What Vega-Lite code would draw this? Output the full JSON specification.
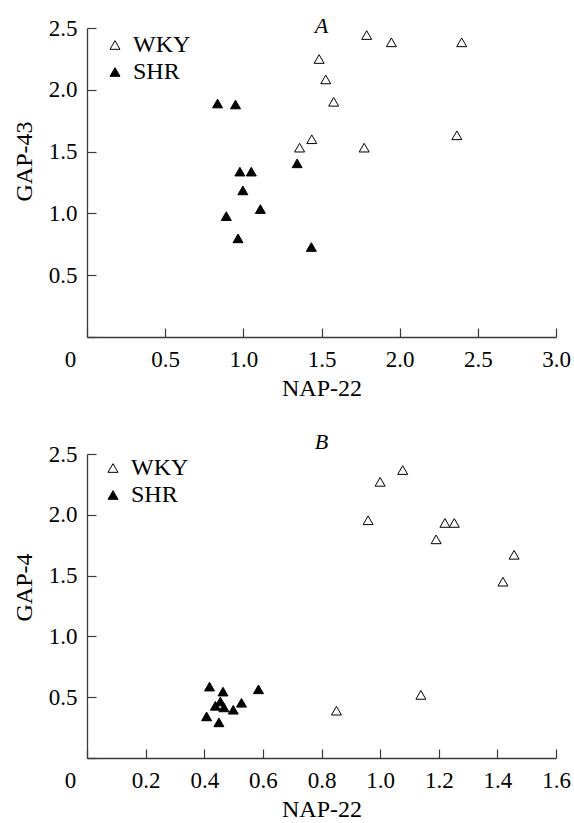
{
  "$schema": "https://vega.github.io/schema/vega-lite/v6.json",
  "autosize": {"type": "pad"},
  "padding": {"left": 12, "top": 15, "right": 0, "bottom": 0},
  "background": "white",
  "bounds": "flush",
  "spacing": 117,
  "config": {
    "view": {"stroke": null},
    "font": "Liberation Serif",
    "axis": {
      "grid": false,
      "domainColor": "#3a3a3a",
      "domainWidth": 1.3,
      "tickColor": "#3a3a3a",
      "tickWidth": 1.2,
      "tickSize": -9,
      "labelFont": "Liberation Serif",
      "labelFontSize": 23,
      "labelColor": "black",
      "labelFlush": false,
      "labelOverlap": false,
      "labelBound": false,
      "titleFont": "Liberation Serif",
      "titleFontSize": 24,
      "titleFontWeight": "normal",
      "titleColor": "black"
    },
    "axisX": {"labelPadding": 20, "titlePadding": 5},
    "axisY": {"labelPadding": 19, "titlePadding": 12},
    "legend": {
      "orient": "none",
      "title": null,
      "padding": 0,
      "symbolType": "triangle-up",
      "symbolSize": 100,
      "symbolStrokeColor": "black",
      "symbolStrokeWidth": 1,
      "labelFont": "Liberation Serif",
      "labelFontSize": 24,
      "labelColor": "black",
      "labelOffset": 6,
      "rowPadding": 3
    },
    "title": {
      "font": "Liberation Serif",
      "fontSize": 22,
      "fontStyle": "italic",
      "fontWeight": "normal",
      "color": "black",
      "anchor": "middle",
      "frame": "group",
      "baseline": "alphabetic"
    }
  },
  "datasets": {
    "a": [
      {"nap22": 1.789, "gap": 2.443, "group": "WKY"},
      {"nap22": 1.947, "gap": 2.384, "group": "WKY"},
      {"nap22": 2.397, "gap": 2.384, "group": "WKY"},
      {"nap22": 1.485, "gap": 2.249, "group": "WKY"},
      {"nap22": 1.527, "gap": 2.084, "group": "WKY"},
      {"nap22": 1.578, "gap": 1.903, "group": "WKY"},
      {"nap22": 1.438, "gap": 1.6, "group": "WKY"},
      {"nap22": 1.36, "gap": 1.532, "group": "WKY"},
      {"nap22": 1.773, "gap": 1.532, "group": "WKY"},
      {"nap22": 2.366, "gap": 1.632, "group": "WKY"},
      {"nap22": 0.835, "gap": 1.889, "group": "SHR"},
      {"nap22": 0.95, "gap": 1.881, "group": "SHR"},
      {"nap22": 0.978, "gap": 1.338, "group": "SHR"},
      {"nap22": 1.051, "gap": 1.338, "group": "SHR"},
      {"nap22": 0.997, "gap": 1.186, "group": "SHR"},
      {"nap22": 1.344, "gap": 1.405, "group": "SHR"},
      {"nap22": 0.891, "gap": 0.978, "group": "SHR"},
      {"nap22": 1.109, "gap": 1.035, "group": "SHR"},
      {"nap22": 0.966, "gap": 0.798, "group": "SHR"},
      {"nap22": 1.435, "gap": 0.728, "group": "SHR"}
    ],
    "b": [
      {"nap22": 0.959, "gap": 1.955, "group": "WKY"},
      {"nap22": 1.0, "gap": 2.271, "group": "WKY"},
      {"nap22": 1.077, "gap": 2.368, "group": "WKY"},
      {"nap22": 1.191, "gap": 1.798, "group": "WKY"},
      {"nap22": 1.221, "gap": 1.933, "group": "WKY"},
      {"nap22": 1.253, "gap": 1.933, "group": "WKY"},
      {"nap22": 1.457, "gap": 1.671, "group": "WKY"},
      {"nap22": 1.419, "gap": 1.45, "group": "WKY"},
      {"nap22": 0.851, "gap": 0.389, "group": "WKY"},
      {"nap22": 1.139, "gap": 0.519, "group": "WKY"},
      {"nap22": 0.418, "gap": 0.587, "group": "SHR"},
      {"nap22": 0.464, "gap": 0.546, "group": "SHR"},
      {"nap22": 0.585, "gap": 0.565, "group": "SHR"},
      {"nap22": 0.438, "gap": 0.429, "group": "SHR"},
      {"nap22": 0.455, "gap": 0.465, "group": "SHR"},
      {"nap22": 0.467, "gap": 0.416, "group": "SHR"},
      {"nap22": 0.499, "gap": 0.397, "group": "SHR"},
      {"nap22": 0.527, "gap": 0.454, "group": "SHR"},
      {"nap22": 0.408, "gap": 0.342, "group": "SHR"},
      {"nap22": 0.45, "gap": 0.293, "group": "SHR"}
    ]
  },
  "resolve": {
    "scale": {"x": "independent", "y": "independent", "fill": "independent"},
    "legend": {"fill": "independent"},
    "axis": {"x": "independent", "y": "independent"}
  },
  "vconcat": [
    {
      "title": {"text": "A", "offset": -21},
      "width": 469,
      "height": 309,
      "data": {"name": "a"},
      "mark": {"type": "point", "shape": "triangle-up", "size": 100, "filled": true, "stroke": "black", "strokeWidth": 1, "opacity": 1},
      "encoding": {
        "x": {
          "field": "nap22", "type": "quantitative",
          "scale": {"domain": [0, 3], "nice": false, "zero": false},
          "axis": {
            "title": "NAP-22",
            "values": [0, 0.5, 1, 1.5, 2, 2.5, 3],
            "labelExpr": "datum.value === 0 ? '0' : format(datum.value, '.1f')",
            "labelOffset": {"condition": {"test": "datum.value === 0", "value": -17}, "value": 0}
          }
        },
        "y": {
          "field": "gap", "type": "quantitative",
          "scale": {"domain": [0, 2.5], "nice": false},
          "axis": {
            "title": "GAP-43",
            "values": [0, 0.5, 1, 1.5, 2, 2.5],
            "labelExpr": "datum.value === 0 ? '' : format(datum.value, '.1f')",
            "titleY": 133
          }
        },
        "fill": {
          "field": "group", "type": "nominal",
          "scale": {"domain": ["WKY", "SHR"], "range": ["white", "black"]},
          "legend": {"orient": "none", "legendX": 16, "legendY": 5, "title": null}
        }
      }
    },
    {
      "title": {"text": "B", "offset": -11},
      "width": 469,
      "height": 304,
      "data": {"name": "b"},
      "mark": {"type": "point", "shape": "triangle-up", "size": 100, "filled": true, "stroke": "black", "strokeWidth": 1, "opacity": 1},
      "encoding": {
        "x": {
          "field": "nap22", "type": "quantitative",
          "scale": {"domain": [0, 1.6], "nice": false, "zero": false},
          "axis": {
            "title": "NAP-22",
            "values": [0, 0.2, 0.4, 0.6, 0.8, 1, 1.2, 1.4, 1.6],
            "labelExpr": "datum.value === 0 ? '0' : format(datum.value, '.1f')",
            "labelOffset": {"condition": {"test": "datum.value === 0", "value": -17}, "value": 0}
          }
        },
        "y": {
          "field": "gap", "type": "quantitative",
          "scale": {"domain": [0, 2.5], "nice": false},
          "axis": {
            "title": "GAP-4",
            "values": [0, 0.5, 1, 1.5, 2, 2.5],
            "labelExpr": "datum.value === 0 ? '' : format(datum.value, '.1f')",
            "titleY": 133
          }
        },
        "fill": {
          "field": "group", "type": "nominal",
          "scale": {"domain": ["WKY", "SHR"], "range": ["white", "black"]},
          "legend": {"orient": "none", "legendX": 14, "legendY": 2, "title": null}
        }
      }
    }
  ]
}
